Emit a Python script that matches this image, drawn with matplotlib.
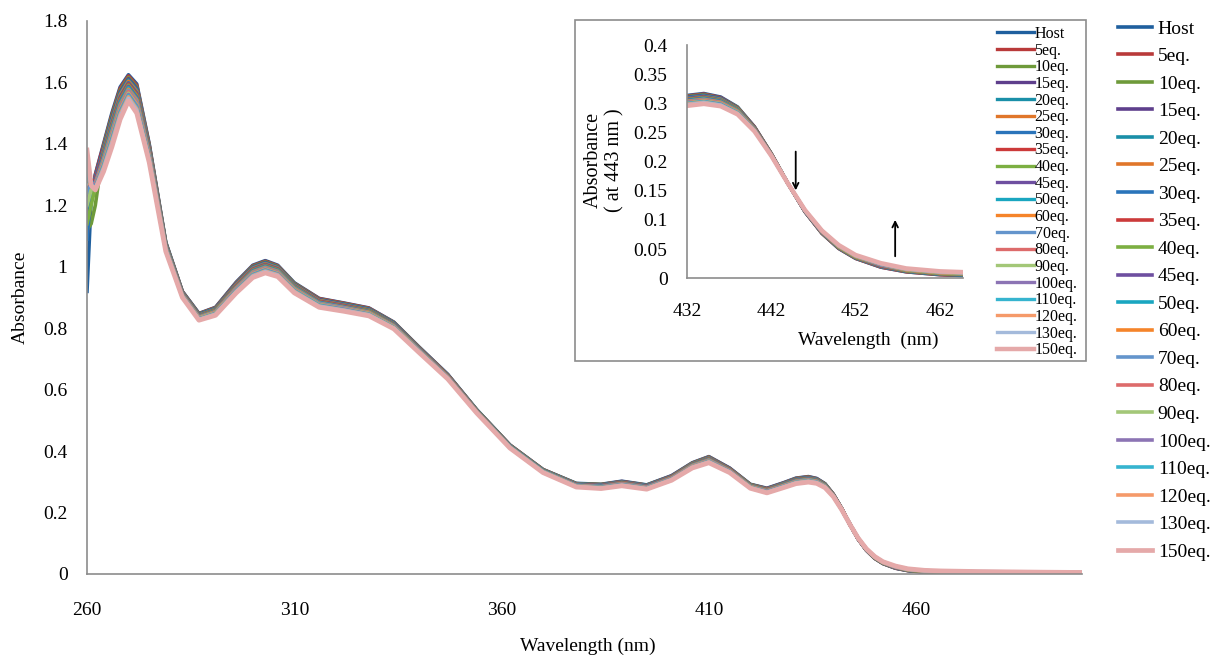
import matplotlib
matplotlib.use("Agg")
import matplotlib.pyplot as plt
from matplotlib.patches import Rectangle

plt.rcParams["font.family"] = ["Liberation Serif", "DejaVu Serif"]

# wavelengths (nm) the spectra were read at
wavelength = [260, 261, 262, 264, 266, 268, 270, 272, 275, 279, 283, 287, 291, 296, 300, 303,
              306, 310, 316, 322, 328, 334, 340, 347, 354, 362, 370, 378, 384, 389, 395, 401,
              406, 410, 415, 420, 424, 428, 431, 434, 436, 438, 440, 442, 444, 446, 448, 450,
              452, 455, 458, 462, 466, 475, 490, 500]

host = [0.920, 1.220, 1.300, 1.400, 1.500, 1.585, 1.625, 1.595, 1.400, 1.080, 0.920, 0.848, 0.868, 0.950,
        1.005, 1.020, 1.005, 0.948, 0.897, 0.882, 0.866, 0.820, 0.740, 0.650, 0.535, 0.420, 0.340, 0.295,
        0.292, 0.302, 0.290, 0.320, 0.362, 0.382, 0.345, 0.292, 0.279, 0.297, 0.312, 0.317, 0.311, 0.294,
        0.260, 0.214, 0.162, 0.114, 0.077, 0.051, 0.034, 0.019, 0.011, 0.006, 0.004, 0.003, 0.002, 0.002]
eq5 = [1.100, 1.230, 1.298, 1.396, 1.494, 1.580, 1.621, 1.590, 1.397, 1.078, 0.919, 0.847, 0.867, 0.948,
       1.003, 1.018, 1.003, 0.946, 0.896, 0.881, 0.865, 0.819, 0.739, 0.649, 0.534, 0.420, 0.340, 0.294,
       0.291, 0.301, 0.289, 0.319, 0.361, 0.381, 0.344, 0.291, 0.278, 0.296, 0.311, 0.316, 0.310, 0.293,
       0.260, 0.214, 0.162, 0.114, 0.077, 0.051, 0.034, 0.019, 0.011, 0.006, 0.004, 0.003, 0.002, 0.002]
eq10 = [1.120, 1.140, 1.200, 1.391, 1.489, 1.574, 1.616, 1.585, 1.394, 1.077, 0.918, 0.846, 0.865, 0.946,
        1.001, 1.016, 1.001, 0.945, 0.894, 0.879, 0.863, 0.818, 0.738, 0.648, 0.534, 0.419, 0.339, 0.294,
        0.291, 0.300, 0.289, 0.318, 0.360, 0.380, 0.343, 0.291, 0.277, 0.295, 0.310, 0.315, 0.309, 0.293,
        0.259, 0.214, 0.162, 0.114, 0.078, 0.052, 0.035, 0.020, 0.012, 0.007, 0.005, 0.004, 0.002, 0.002]
eq15 = [1.180, 1.240, 1.290, 1.386, 1.483, 1.569, 1.612, 1.581, 1.391, 1.075, 0.917, 0.845, 0.864, 0.945,
        0.999, 1.014, 0.999, 0.943, 0.893, 0.878, 0.862, 0.817, 0.737, 0.648, 0.533, 0.418, 0.338, 0.293,
        0.290, 0.300, 0.288, 0.318, 0.359, 0.379, 0.343, 0.290, 0.277, 0.295, 0.309, 0.314, 0.309, 0.292,
        0.259, 0.213, 0.162, 0.114, 0.078, 0.052, 0.035, 0.020, 0.012, 0.007, 0.005, 0.004, 0.003, 0.002]
eq20 = [1.200, 1.260, 1.290, 1.382, 1.478, 1.564, 1.608, 1.576, 1.388, 1.074, 0.916, 0.844, 0.863, 0.943,
        0.997, 1.012, 0.998, 0.941, 0.891, 0.877, 0.861, 0.816, 0.736, 0.647, 0.533, 0.418, 0.338, 0.293,
        0.289, 0.299, 0.287, 0.317, 0.359, 0.378, 0.342, 0.289, 0.276, 0.294, 0.308, 0.313, 0.308, 0.291,
        0.258, 0.213, 0.162, 0.115, 0.078, 0.052, 0.035, 0.020, 0.012, 0.007, 0.005, 0.004, 0.003, 0.003]
eq25 = [1.150, 1.230, 1.280, 1.377, 1.472, 1.559, 1.604, 1.571, 1.385, 1.072, 0.915, 0.842, 0.861, 0.941,
        0.995, 1.010, 0.996, 0.940, 0.890, 0.875, 0.859, 0.814, 0.735, 0.646, 0.532, 0.417, 0.337, 0.292,
        0.288, 0.298, 0.286, 0.316, 0.358, 0.377, 0.341, 0.289, 0.275, 0.293, 0.307, 0.312, 0.307, 0.291,
        0.258, 0.213, 0.162, 0.115, 0.078, 0.053, 0.036, 0.021, 0.013, 0.008, 0.006, 0.004, 0.003, 0.003]
eq30 = [1.090, 1.250, 1.285, 1.373, 1.467, 1.553, 1.599, 1.566, 1.382, 1.071, 0.914, 0.841, 0.860, 0.939,
        0.993, 1.008, 0.994, 0.938, 0.888, 0.874, 0.858, 0.813, 0.735, 0.645, 0.532, 0.417, 0.337, 0.291,
        0.288, 0.297, 0.286, 0.315, 0.357, 0.376, 0.340, 0.288, 0.274, 0.292, 0.307, 0.312, 0.306, 0.290,
        0.258, 0.213, 0.162, 0.115, 0.079, 0.053, 0.036, 0.021, 0.013, 0.008, 0.006, 0.005, 0.003, 0.003]
eq35 = [1.250, 1.270, 1.285, 1.368, 1.461, 1.548, 1.595, 1.562, 1.379, 1.069, 0.913, 0.840, 0.859, 0.938,
        0.991, 1.006, 0.992, 0.936, 0.887, 0.873, 0.857, 0.812, 0.734, 0.645, 0.531, 0.416, 0.336, 0.291,
        0.287, 0.297, 0.285, 0.315, 0.356, 0.375, 0.340, 0.287, 0.274, 0.291, 0.306, 0.311, 0.305, 0.289,
        0.257, 0.213, 0.162, 0.115, 0.079, 0.053, 0.036, 0.021, 0.013, 0.008, 0.006, 0.005, 0.003, 0.003]
eq40 = [1.140, 1.200, 1.260, 1.364, 1.456, 1.543, 1.591, 1.557, 1.376, 1.068, 0.912, 0.839, 0.858, 0.936,
        0.989, 1.004, 0.990, 0.935, 0.885, 0.871, 0.856, 0.811, 0.733, 0.644, 0.531, 0.416, 0.336, 0.290,
        0.286, 0.296, 0.284, 0.314, 0.355, 0.374, 0.339, 0.287, 0.273, 0.291, 0.305, 0.310, 0.305, 0.289,
        0.257, 0.212, 0.162, 0.115, 0.079, 0.053, 0.036, 0.022, 0.013, 0.008, 0.006, 0.005, 0.004, 0.003]
eq45 = [1.220, 1.260, 1.280, 1.359, 1.450, 1.538, 1.587, 1.552, 1.373, 1.066, 0.911, 0.838, 0.856, 0.934,
        0.987, 1.002, 0.988, 0.933, 0.884, 0.870, 0.854, 0.810, 0.732, 0.643, 0.530, 0.415, 0.335, 0.290,
        0.286, 0.295, 0.284, 0.313, 0.354, 0.373, 0.338, 0.286, 0.272, 0.290, 0.304, 0.309, 0.304, 0.288,
        0.256, 0.212, 0.162, 0.115, 0.079, 0.054, 0.037, 0.022, 0.014, 0.009, 0.007, 0.005, 0.004, 0.003]
eq50 = [1.280, 1.270, 1.275, 1.355, 1.445, 1.533, 1.583, 1.547, 1.370, 1.065, 0.910, 0.837, 0.855, 0.932,
        0.985, 1.000, 0.987, 0.932, 0.883, 0.868, 0.853, 0.809, 0.731, 0.642, 0.529, 0.415, 0.335, 0.289,
        0.285, 0.294, 0.283, 0.312, 0.354, 0.372, 0.337, 0.286, 0.271, 0.289, 0.303, 0.308, 0.303, 0.288,
        0.256, 0.212, 0.162, 0.116, 0.079, 0.054, 0.037, 0.023, 0.014, 0.009, 0.007, 0.005, 0.004, 0.004]
eq60 = [1.300, 1.260, 1.272, 1.350, 1.439, 1.527, 1.578, 1.543, 1.367, 1.063, 0.909, 0.836, 0.854, 0.931,
        0.983, 0.998, 0.985, 0.930, 0.881, 0.867, 0.852, 0.808, 0.730, 0.642, 0.529, 0.414, 0.334, 0.288,
        0.284, 0.294, 0.282, 0.312, 0.353, 0.371, 0.337, 0.285, 0.271, 0.288, 0.302, 0.307, 0.302, 0.287,
        0.256, 0.212, 0.162, 0.116, 0.080, 0.054, 0.037, 0.023, 0.014, 0.009, 0.007, 0.006, 0.004, 0.004]
eq70 = [1.240, 1.270, 1.270, 1.346, 1.434, 1.522, 1.574, 1.538, 1.364, 1.062, 0.908, 0.835, 0.852, 0.929,
        0.981, 0.996, 0.983, 0.928, 0.880, 0.866, 0.850, 0.807, 0.729, 0.641, 0.528, 0.414, 0.334, 0.288,
        0.284, 0.293, 0.282, 0.311, 0.352, 0.370, 0.336, 0.284, 0.270, 0.287, 0.301, 0.306, 0.301, 0.286,
        0.255, 0.212, 0.162, 0.116, 0.080, 0.055, 0.038, 0.023, 0.015, 0.010, 0.008, 0.006, 0.004, 0.004]
eq80 = [1.320, 1.270, 1.268, 1.341, 1.428, 1.517, 1.570, 1.533, 1.361, 1.060, 0.907, 0.834, 0.851, 0.927,
        0.979, 0.994, 0.981, 0.927, 0.878, 0.864, 0.849, 0.806, 0.728, 0.640, 0.528, 0.413, 0.333, 0.287,
        0.283, 0.292, 0.281, 0.310, 0.351, 0.369, 0.335, 0.284, 0.269, 0.287, 0.300, 0.305, 0.301, 0.286,
        0.255, 0.211, 0.162, 0.116, 0.080, 0.055, 0.038, 0.024, 0.015, 0.010, 0.008, 0.006, 0.005, 0.004]
eq90 = [1.200, 1.250, 1.262, 1.337, 1.423, 1.511, 1.565, 1.528, 1.358, 1.059, 0.906, 0.833, 0.850, 0.925,
        0.977, 0.992, 0.979, 0.925, 0.877, 0.863, 0.848, 0.805, 0.727, 0.639, 0.527, 0.413, 0.333, 0.287,
        0.282, 0.291, 0.280, 0.309, 0.350, 0.368, 0.334, 0.283, 0.268, 0.286, 0.299, 0.304, 0.300, 0.285,
        0.254, 0.211, 0.162, 0.116, 0.081, 0.055, 0.038, 0.024, 0.015, 0.010, 0.008, 0.007, 0.005, 0.004]
eq100 = [1.330, 1.275, 1.262, 1.332, 1.417, 1.506, 1.561, 1.524, 1.355, 1.057, 0.905, 0.831, 0.848, 0.924,
         0.975, 0.990, 0.977, 0.923, 0.875, 0.862, 0.846, 0.803, 0.726, 0.639, 0.527, 0.412, 0.332, 0.286,
         0.281, 0.291, 0.279, 0.309, 0.349, 0.367, 0.334, 0.282, 0.268, 0.285, 0.298, 0.303, 0.299, 0.284,
         0.254, 0.211, 0.162, 0.116, 0.081, 0.056, 0.039, 0.024, 0.016, 0.011, 0.009, 0.007, 0.005, 0.004]
eq110 = [1.300, 1.268, 1.258, 1.328, 1.412, 1.501, 1.557, 1.519, 1.352, 1.056, 0.904, 0.830, 0.847, 0.922,
         0.973, 0.988, 0.975, 0.922, 0.874, 0.860, 0.845, 0.802, 0.726, 0.638, 0.526, 0.412, 0.332, 0.285,
         0.281, 0.290, 0.279, 0.308, 0.348, 0.366, 0.333, 0.282, 0.267, 0.284, 0.298, 0.303, 0.298, 0.284,
         0.254, 0.211, 0.162, 0.116, 0.081, 0.056, 0.039, 0.025, 0.016, 0.011, 0.009, 0.007, 0.005, 0.004]
eq120 = [1.350, 1.265, 1.256, 1.323, 1.406, 1.496, 1.553, 1.514, 1.349, 1.054, 0.903, 0.829, 0.846, 0.920,
         0.971, 0.986, 0.974, 0.920, 0.872, 0.859, 0.844, 0.801, 0.725, 0.637, 0.526, 0.411, 0.331, 0.285,
         0.280, 0.289, 0.278, 0.307, 0.348, 0.365, 0.332, 0.281, 0.266, 0.283, 0.297, 0.302, 0.297, 0.283,
         0.253, 0.211, 0.162, 0.117, 0.081, 0.056, 0.039, 0.025, 0.016, 0.011, 0.009, 0.007, 0.005, 0.005]
eq130 = [1.340, 1.262, 1.254, 1.319, 1.401, 1.490, 1.548, 1.509, 1.346, 1.053, 0.902, 0.828, 0.845, 0.918,
         0.969, 0.984, 0.972, 0.918, 0.871, 0.858, 0.843, 0.800, 0.724, 0.636, 0.525, 0.411, 0.331, 0.284,
         0.279, 0.288, 0.277, 0.306, 0.347, 0.364, 0.331, 0.280, 0.265, 0.283, 0.296, 0.301, 0.297, 0.282,
         0.253, 0.210, 0.162, 0.117, 0.082, 0.056, 0.039, 0.025, 0.016, 0.011, 0.009, 0.008, 0.006, 0.005]
eq150 = [1.380, 1.265, 1.250, 1.310, 1.390, 1.480, 1.540, 1.500, 1.340, 1.050, 0.900, 0.826, 0.842, 0.915,
         0.965, 0.980, 0.968, 0.915, 0.868, 0.855, 0.840, 0.798, 0.722, 0.635, 0.524, 0.410, 0.330, 0.283,
         0.278, 0.287, 0.276, 0.305, 0.345, 0.362, 0.330, 0.279, 0.264, 0.281, 0.294, 0.299, 0.295, 0.281,
         0.252, 0.210, 0.162, 0.117, 0.082, 0.057, 0.040, 0.026, 0.017, 0.012, 0.010, 0.008, 0.006, 0.005]

labels = ["Host", "5eq.", "10eq.", "15eq.", "20eq.", "25eq.", "30eq.", "35eq.", "40eq.", "45eq.",
          "50eq.", "60eq.", "70eq.", "80eq.", "90eq.", "100eq.", "110eq.", "120eq.", "130eq.", "150eq."]
series = [host, eq5, eq10, eq15, eq20, eq25, eq30, eq35, eq40, eq45,
          eq50, eq60, eq70, eq80, eq90, eq100, eq110, eq120, eq130, eq150]
colors = ["#1f5f9e", "#b93a3a", "#6e9a3a", "#5e3f8c", "#1a8fa8", "#e0762a", "#2a74ba", "#cc3a3a",
          "#7caf42", "#6e4fa0", "#1aa6c0", "#f5842a", "#6495cc", "#dd6b6b", "#a3c778", "#8c74b4",
          "#36b4cf", "#f59a6a", "#a4badb", "#e5a9a9"]

W, H = 1213, 655
GREY = "#8c8c8c"

fig = plt.figure(figsize=(W / 100, H / 100), dpi=100)

# main spectrum
ax = fig.add_axes([87 / W, 1 - 574 / H, 995 / W, 553 / H])
lines = []
for y, lab, c in zip(series, labels, colors):
    lw = 3.4 if lab == "150eq." else 2.6
    ln, = ax.plot(wavelength, y, color=c, lw=lw, label=lab, solid_joinstyle="round")
    lines.append(ln)
ax.set_xlim(260, 500)
ax.set_ylim(0, 1.8)
ax.set_xticks([260, 310, 360, 410, 460])
ax.set_yticks([0, 0.2, 0.4, 0.6, 0.8, 1, 1.2, 1.4, 1.6, 1.8])
ax.set_yticklabels(["0", "0.2", "0.4", "0.6", "0.8", "1", "1.2", "1.4", "1.6", "1.8"])
ax.tick_params(axis="both", length=0, labelsize=14)
ax.tick_params(axis="y", pad=14)
ax.tick_params(axis="x", pad=20)
for s in ("top", "right"):
    ax.spines[s].set_visible(False)
for s in ("left", "bottom"):
    ax.spines[s].set_color(GREY)
    ax.spines[s].set_linewidth(1.2)
ax.set_xlabel("Wavelength (nm)", fontsize=14)
ax.set_ylabel("Absorbance", fontsize=14)
ax.xaxis.set_label_coords(0.5035, -0.115)
ax.yaxis.set_label_coords(-0.058, 0.5)

fig.legend(lines, labels, loc="upper left", bbox_to_anchor=(1118 / W, 1 - 20 / H),
           frameon=False, fontsize=14, handlelength=1.75, handletextpad=0.3,
           labelspacing=0.51, borderpad=0, borderaxespad=0)

# inset box
fig.add_artist(Rectangle((575 / W, 1 - 361 / H), 511 / W, 341 / H, transform=fig.transFigure,
                         fill=False, edgecolor=GREY, lw=1.2))

axi = fig.add_axes([687 / W, 1 - 278.3 / H, 276 / W, 233.3 / H])
for y, lab, c in zip(series, labels, colors):
    lw = 3.2 if lab == "150eq." else 2.4
    axi.plot(wavelength, y, color=c, lw=lw, label=lab, solid_joinstyle="round")
axi.set_xlim(432, 464.75)
axi.set_ylim(0, 0.4)
axi.set_xticks([432, 442, 452, 462])
axi.set_yticks([0, 0.05, 0.1, 0.15, 0.2, 0.25, 0.3, 0.35, 0.4])
axi.set_yticklabels(["0", "0.05", "0.1", "0.15", "0.2", "0.25", "0.3", "0.35", "0.4"])
axi.tick_params(axis="both", length=0, labelsize=14)
axi.tick_params(axis="y", pad=14)
axi.tick_params(axis="x", pad=18)
for s in ("top", "right"):
    axi.spines[s].set_visible(False)
for s in ("left", "bottom"):
    axi.spines[s].set_color(GREY)
    axi.spines[s].set_linewidth(1.2)
axi.set_xlabel("Wavelength  (nm)", fontsize=14)
axi.set_ylabel("Absorbance\n( at 443 nm )", fontsize=14.5, linespacing=1.15)
axi.xaxis.set_label_coords(0.656, -0.23)
axi.yaxis.set_label_coords(-0.228, 0.507)

# titration arrows
axi.annotate("", xy=(444.9, 0.146), xytext=(444.9, 0.222),
             arrowprops=dict(arrowstyle="->", color="black", lw=1.3))
axi.annotate("", xy=(456.7, 0.105), xytext=(456.7, 0.033),
             arrowprops=dict(arrowstyle="->", color="black", lw=1.3))

axi.legend(loc="upper left", bbox_to_anchor=(997 / W, 1 - 26 / H), bbox_transform=fig.transFigure,
           frameon=False, fontsize=11.5, handlelength=2.3, handletextpad=0.05,
           labelspacing=0.04, borderpad=0, borderaxespad=0)

fig.savefig("out.png", dpi=100)
